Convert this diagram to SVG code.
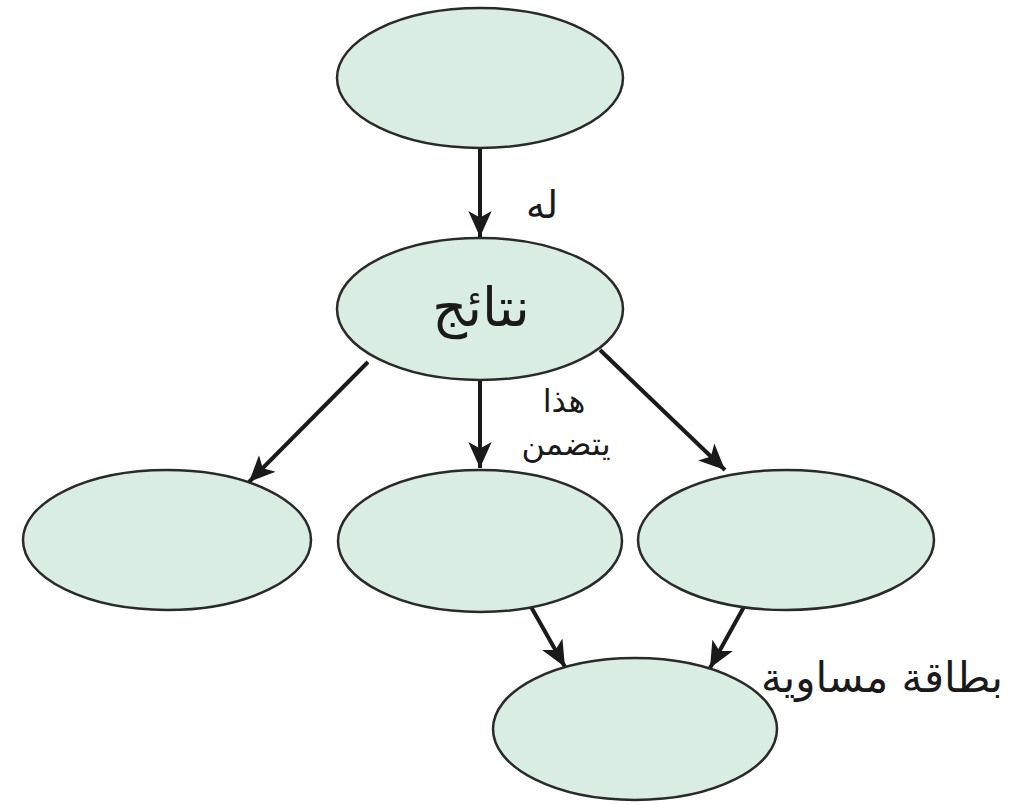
<svg xmlns="http://www.w3.org/2000/svg" width="1013" height="805" viewBox="0 0 1013 805">
<defs>
<marker id="ah" viewBox="0 0 10 10" refX="10" refY="5" markerWidth="6.5" markerHeight="6.5" markerUnits="strokeWidth" orient="auto">
<path d="M0,0.5 L10,5 L0,9.5 L2.5,5 Z" fill="#1a1a1a"/>
</marker>
<style>
.node{fill:#d9ede2;stroke:#2a2a2a;stroke-width:2.5}
.edge{stroke:#1a1a1a;stroke-width:4;fill:none;marker-end:url(#ah)}
.t{font-family:"DejaVu Sans",sans-serif;fill:#1a1a1a;text-anchor:middle;direction:rtl}
</style>
</defs>
<rect width="1013" height="805" fill="#ffffff"/>
<g id="connectors">
<line class="edge" x1="480" y1="148" x2="480" y2="237"/>
<line class="edge" x1="368" y1="362" x2="249" y2="482"/>
<line class="edge" x1="480" y1="380" x2="480" y2="468"/>
<line class="edge" x1="600" y1="350" x2="725" y2="470"/>
<line class="edge" x1="530" y1="605" x2="565" y2="667"/>
<line class="edge" x1="745" y1="605" x2="710" y2="668"/>
</g>
<g id="n-top"><ellipse class="node" cx="480" cy="78" rx="143" ry="70"/></g>
<g id="n-results"><ellipse class="node" cx="480" cy="309" rx="143" ry="71"/><text class="t" x="481" y="326" font-size="54">نتائج</text></g>
<g id="n-left"><ellipse class="node" cx="167" cy="540" rx="144" ry="70"/></g>
<g id="n-center"><ellipse class="node" cx="480" cy="541" rx="142" ry="71"/></g>
<g id="n-right"><ellipse class="node" cx="786" cy="540" rx="148" ry="70"/></g>
<g id="n-bottom"><ellipse class="node" cx="635" cy="729" rx="142" ry="71"/></g>
<g id="labels">
<text class="t" x="542" y="218" font-size="38">له</text>
<text class="t" x="564" y="412" font-size="32">هذا</text>
<text class="t" x="566" y="455" font-size="32">يتضمن</text>
<text class="t" x="882" y="692" font-size="42">بطاقة مساوية</text>
</g>
</svg>
